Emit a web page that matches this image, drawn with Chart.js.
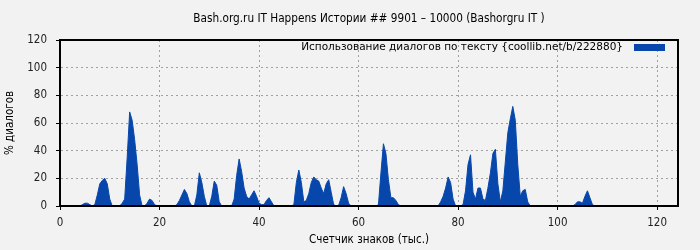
<!DOCTYPE html>
<html><head><meta charset="utf-8">
<script src="https://cdn.jsdelivr.net/npm/chart.js@4/dist/chart.umd.min.js"></script>
<style>html,body{margin:0;padding:0;background:#f2f2f2;}#wrap{width:700px;height:250px;}</style>
</head><body><div id="wrap"><canvas id="c" width="700" height="250"></canvas></div>
<script>
const chartTitle = "Bash.org.ru IT Happens Истории ## 9901 – 10000 (Bashorgru IT )";
const seriesLabel = "Использование диалогов по тексту {coollib.net/b/222880}";
const xAxisTitle = "Счетчик знаков (тыс.)";
const yAxisTitle = "% диалогов";
const xStart = 0;
const xStep = 0.5;
// values at x = 0, 0.5, 1, ... (20 values per 10 units)
const values = [
  0,0,0,0,0,0,0,0,0,1, 2,2,1,0,1,8,16,18.5,20,16,      // 0-9.5
  5,0,0,0,0,2,5,35,68,62, 48,30,8,0,0,2,5,4,1,0,       // 10-19.5
  0,0,0,0,0,0,0,1,4,8, 12,9,3,0,0,8,24,17,7,0,         // 20-29.5
  0,7,18,15,3,0,0,0,0,0, 5,22,34,25,13,7,5,8,11,7,     // 30-39.5
  2,1,1,4,6,3,0,0,0,0, 0,0,0,0,1,17,26,17,3,4,         // 40-49.5
  9,17,21,19,18,13,9,16,19,10, 1,0,0.5,6,14,9,2,0,0,0, // 50-59.5
  0,0,0,0,0,0,0,0,1,24, 45,38,19,6,6,4,1,0,0,0,        // 60-69.5
  0,0,0,0,0,0,0,0,0,0, 0,0,0,3,7,13,21,17,5,0,         // 70-79.5
  0,0,1,11,30,37,10,5,13,13, 5,4,13,24,38,41,16,3,11,32, // 80-89.5
  53,63,72,62,30,7,11,12,3,0, 0,0,0,0,0,0,0,0,0,0,     // 90-99.5
  0,0,0,0,0,0,0,1,3,3, 2,7,11,6,1,0,0,0,0,0,           // 100-109.5
  0,0,0,0,0,0,0,0,0,0, 0,0,0,0,0,0,0,0,0,0,            // 110-119.5
  0,0,0,0,0,0,0,0,0                                    // 120-124
];
const xTicks = [0,20,40,60,80,100,120];
const yTicks = [0,20,40,60,80,100,120];

const points = values.map((v,i)=>({x: xStart + i*xStep, y: v}));
const FONT = "'DejaVu Sans Condensed','DejaVu Sans',sans-serif";

const framePlugin = {
  id:'frame',
  afterDatasetsDraw(chart){
    const {ctx, chartArea:a} = chart;
    ctx.save();
    ctx.strokeStyle = '#000'; ctx.lineWidth = 2;
    ctx.strokeRect(a.left, a.top, a.right-a.left, a.bottom-a.top);
    // title centred over plot area
    ctx.font = "11.7px " + FONT;
    ctx.fillStyle = '#000';
    ctx.textAlign = 'center'; ctx.textBaseline = 'middle';
    ctx.fillText(chartTitle, (a.left + a.right)/2, a.top - 21);
    // legend
    ctx.font = "10.5px 'DejaVu Sans',sans-serif";
    ctx.textAlign = 'right';
    ctx.fillText(chart.data.datasets[0].label, a.right - 55, a.top + 7);
    ctx.fillStyle = chart.data.datasets[0].backgroundColor;
    ctx.fillRect(a.right - 44, a.top + 4, 31, 7);
    ctx.restore();
  }
};

const gridColor = c => (c.tick && c.tick.value === 0) ? 'rgba(0,0,0,0)' : '#a0a0a0';

new Chart(document.getElementById('c'), {
  type:'line',
  data:{datasets:[{label:seriesLabel, data:points, fill:'origin',
    backgroundColor:'#0747AB', borderColor:'#0747AB', borderWidth:1,
    pointRadius:0, tension:0}]},
  options:{
    responsive:false, animation:false, devicePixelRatio:1,
    layout:{padding:{left:0,right:22,top:40,bottom:0}},
    plugins:{
      legend:{display:false}, tooltip:{enabled:false}, title:{display:false}
    },
    scales:{
      x:{type:'linear', min:0, max:124.2,
        afterBuildTicks:s=>{s.ticks = xTicks.map(v=>({value:v}));},
        afterFit:s=>{s.height = 44;},
        grid:{color:gridColor, lineWidth:1, tickColor:'#000', tickLength:4, tickBorderDash:[], tickWidth:1},
        border:{display:true, color:'#000', width:2, dash:[2,3]},
        ticks:{color:'#222', font:{family:FONT, size:11.5}, padding:6, maxRotation:0},
        title:{display:true, text:xAxisTitle, color:'#000', font:{family:FONT, size:11.5}, padding:{top:0,bottom:3}}
      },
      y:{min:0, max:120,
        afterBuildTicks:s=>{s.ticks = yTicks.map(v=>({value:v}));},
        afterFit:s=>{s.width = 60;},
        grid:{color:gridColor, lineWidth:1, tickColor:'#000', tickLength:4, tickBorderDash:[], tickWidth:1},
        border:{display:true, color:'#000', width:2, dash:[2,3]},
        ticks:{color:'#222', font:{family:FONT, size:11.5}, padding:9},
        title:{display:true, text:yAxisTitle, color:'#000', font:{family:FONT, size:11.5}, padding:{top:3,bottom:0}}
      }
    }
  },
  plugins:[framePlugin]
});
</script></body></html>
